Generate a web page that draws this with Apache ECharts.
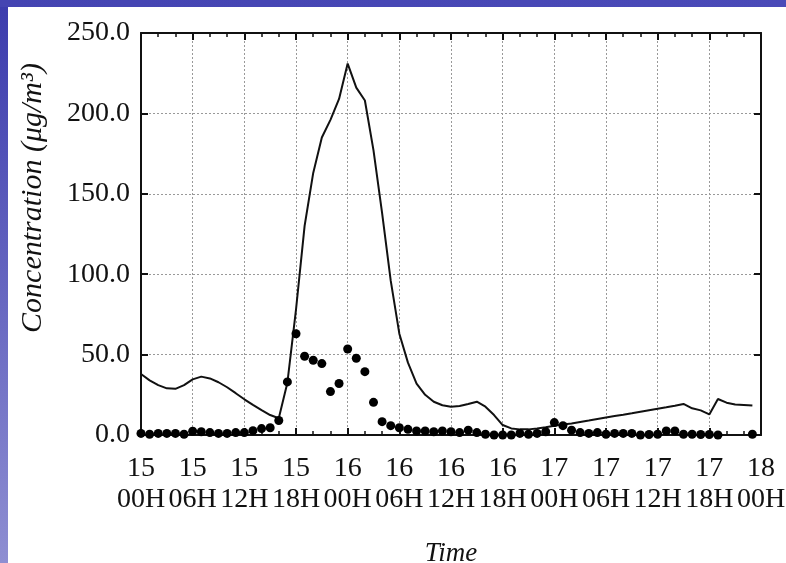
<!DOCTYPE html>
<html>
<head>
<meta charset="utf-8">
<script src="https://cdn.jsdelivr.net/npm/echarts@6/dist/echarts.min.js"></script>
<style>html,body{margin:0;padding:0;background:#fff;}#c{width:786px;height:563px;}</style>
</head>
<body>
<div id="c"></div>
<script>
// Hours since 15 00H (hourly samples)
var dayLabels  = ['15','15','15','15','16','16','16','16','17','17','17','17','18'];
var hourLabels = ['00H','06H','12H','18H','00H','06H','12H','18H','00H','06H','12H','18H','00H'];
var yTicks = [0, 50, 100, 150, 200, 250];

// Observed concentration (dots), one per hour from 15 00H; null = missing
var observed = [1,0.5,1,1,1,0.5,2.3,2,1.5,1,1,1.5,1.5,2.7,4,4.5,9,33,63,49,46.5,44.4,27,32,
  53.5,47.7,39.4,20.3,8.3,5.8,4.5,3.5,2.5,2.5,2,2.5,2,1.5,3,1.5,0.5,0,0,0,1,0.5,1,2,
  7.7,5.8,3,1.5,1,1.5,0.5,1,1,1,0,0.3,0.5,2.5,2.5,0.5,0.5,0.3,0.3,0,null,null,null,0.5];

// Modelled concentration (line), one per hour from 15 00H
var modelled = [37.9,34,31,29,28.7,31,34.6,36.3,35.2,32.8,29.7,26,22.2,18.7,15.5,12.4,10.4,32.5,78,130,163,185,196,209,
  231,216,208,177,138,96,63,45,32,25,20.7,18.5,17.6,18,19.3,20.7,17.6,12.4,6.2,4.1,3.5,3.5,4,4.8,
  5.8,6.6,7.2,8.1,9.0,10.0,10.9,11.8,12.6,13.5,14.5,15.4,16.3,17.2,18.2,19.3,16.6,15.3,12.8,22.4,20.1,19,18.7,18.3];

var obsData = [], modData = [];
observed.forEach(function(v, i){ if (v !== null) obsData.push([i, v]); });
modelled.forEach(function(v, i){ modData.push([i, v]); });

var serif = 'Liberation Serif';
var chart = echarts.init(document.getElementById('c'));
function axisLine(){ return {show: true, onZero: false, lineStyle: {color: '#111', width: 2}}; }
function majorTick(){ return {show: true, inside: true, length: 7, lineStyle: {color: '#111', width: 2}}; }
function minorTick(){ return {show: true, splitNumber: 3, length: 4, lineStyle: {color: '#111', width: 1.5}}; }
var split = {show: true, lineStyle: {color: '#999', type: [2, 2], width: 1}};
chart.setOption({
  backgroundColor: '#fff',
  animation: false,
  graphic: [
    {type: 'rect', left: 0, top: 0, shape: {width: 8, height: 563}, z: 100,
     style: {fill: new echarts.graphic.LinearGradient(0, 0, 0, 1, [{offset: 0, color: '#3b3bad'}, {offset: 1, color: '#8e8ed2'}])}},
    {type: 'rect', left: 0, top: 0, shape: {width: 786, height: 7}, z: 100,
     style: {fill: new echarts.graphic.LinearGradient(0, 0, 1, 0, [{offset: 0, color: '#4444b2'}, {offset: 1, color: '#4a4ab8'}])}}
  ],
  grid: {left: 141, top: 33, right: 25, bottom: 128, containLabel: false, outerBoundsMode: 'none'},
  xAxis: [{
    type: 'value', min: 0, max: 72, interval: 6, position: 'bottom',
    axisLine: axisLine(), axisTick: majorTick(), minorTick: minorTick(),
    splitLine: split,
    axisLabel: {
      margin: 18, fontFamily: serif, fontSize: 28, color: '#111', lineHeight: 31,
      formatter: function(v){ var i = Math.round(v / 6); return dayLabels[i] + '\n' + hourLabels[i]; }
    },
    name: 'Time', nameLocation: 'middle', nameGap: 105,
    nameTextStyle: {fontFamily: serif, fontStyle: 'italic', fontSize: 27, color: '#111'}
  }, {
    type: 'value', min: 0, max: 72, interval: 6, position: 'top',
    axisLine: axisLine(), axisTick: majorTick(), minorTick: minorTick(),
    splitLine: {show: false}, axisLabel: {show: false}
  }],
  yAxis: [{
    type: 'value', min: 0, max: 250, interval: 50, position: 'left',
    axisLine: axisLine(), axisTick: majorTick(),
    splitLine: split,
    axisLabel: {
      margin: 11, fontFamily: serif, fontSize: 28, color: '#111',
      formatter: function(v){ return yTicks.indexOf(v) >= 0 ? v.toFixed(1) : ''; }
    },
    name: 'Concentration (μg/m³)', nameLocation: 'middle', nameGap: 93,
    nameTextStyle: {fontFamily: serif, fontStyle: 'italic', fontSize: 30, color: '#111', padding: [0, 0, 0, 72]}
  }, {
    type: 'value', min: 0, max: 250, interval: 50, position: 'right',
    axisLine: axisLine(), axisTick: majorTick(),
    splitLine: {show: false}, axisLabel: {show: false}
  }],
  series: [{
    type: 'line', data: modData, xAxisIndex: 0, yAxisIndex: 0,
    showSymbol: false, symbol: 'none',
    lineStyle: {color: '#111', width: 2}, z: 3
  }, {
    type: 'scatter', data: obsData, xAxisIndex: 0, yAxisIndex: 0,
    symbol: 'circle', symbolSize: 9, clip: false,
    itemStyle: {color: '#000', opacity: 1}, z: 4
  }]
});
</script>
</body>
</html>
